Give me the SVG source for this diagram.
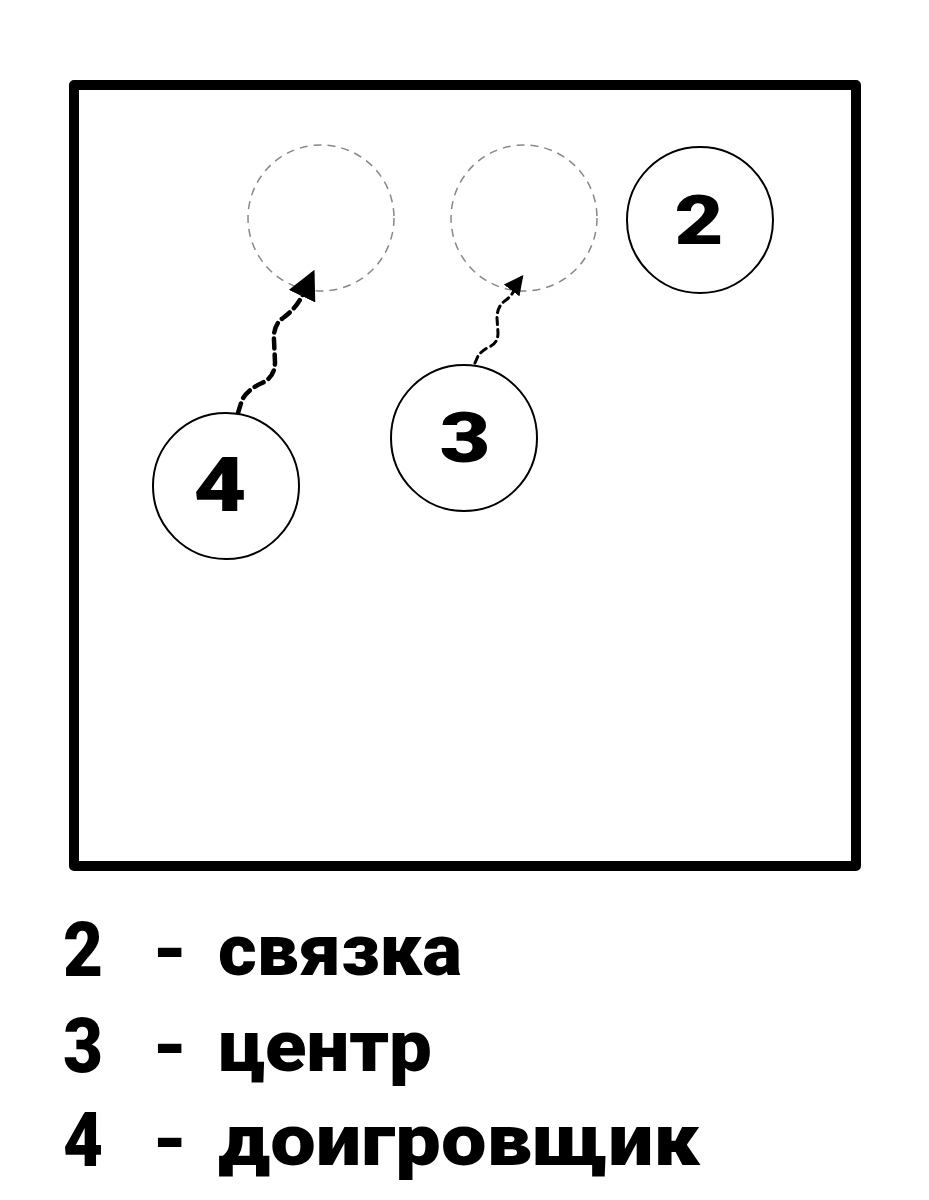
<svg xmlns="http://www.w3.org/2000/svg" width="929" height="1200" viewBox="0 0 929 1200">
<style>
.player{fill:#fff;stroke:#000;stroke-width:2}
.ghost{fill:none;stroke:#888;stroke-width:1.5;stroke-dasharray:8 6}
.num{font-family:Roboto,"Liberation Sans",sans-serif;font-weight:900;fill:#000;text-anchor:middle}
.leg{font-family:Roboto,"Liberation Sans",sans-serif;font-weight:900;font-size:72px;fill:#000}
.legnum{font-family:Roboto,"Liberation Sans",sans-serif;font-weight:900;font-size:76px;fill:#000}
.run{fill:none;stroke:#000;stroke-linecap:round}
</style>
<defs>
<marker id="ah" viewBox="0 0 10 10" refX="8" refY="5" markerWidth="6.5" markerHeight="6.5" markerUnits="strokeWidth" orient="auto">
<path d="M0,0 L10,5 L0,10 z" fill="#000"/>
</marker>
</defs>
<rect x="74" y="85" width="782" height="781" fill="#fff" stroke="#000" stroke-width="10" stroke-linejoin="round"/>
<g id="ghost-a"><circle class="ghost" cx="321" cy="218" r="73"/></g>
<g id="ghost-b"><circle class="ghost" cx="524" cy="218" r="73"/></g>
<g id="connectors">
<path class="run" d="M238,413 L242,400 Q247,390 262,383 Q275,377 275,362 L274,340 Q273,325 283,318 Q297,308 304,292 L312,275" stroke-width="4.5" stroke-dasharray="10 6" marker-end="url(#ah)"/>
<path class="run" d="M475,363 L478,356 Q482,350 491,346 Q498,342 498,333 L497,318 Q497,306 506,300 Q514,294 518,282 L521,278" stroke-width="3" stroke-dasharray="7 5" marker-end="url(#ah)"/>
</g>
<g id="node-2"><circle class="player" cx="700" cy="220" r="73"/><text class="num" x="699" y="244" font-size="69" textLength="49" lengthAdjust="spacingAndGlyphs">2</text></g>
<g id="node-3"><circle class="player" cx="464" cy="438" r="73"/><text class="num" x="465" y="462" font-size="71" textLength="51" lengthAdjust="spacingAndGlyphs">3</text></g>
<g id="node-4"><circle class="player" cx="226" cy="486" r="73"/><text class="num" x="220" y="511" font-size="76" textLength="53" lengthAdjust="spacingAndGlyphs">4</text></g>
<g id="legend">
<text class="legnum" x="63" y="976" textLength="40" lengthAdjust="spacingAndGlyphs">2</text><text class="leg" x="152" y="975" textLength="36" lengthAdjust="spacingAndGlyphs">-</text><text class="leg" x="218" y="975" textLength="244" lengthAdjust="spacingAndGlyphs">связка</text>
<text class="legnum" x="63" y="1072" textLength="40" lengthAdjust="spacingAndGlyphs">3</text><text class="leg" x="152" y="1071" textLength="36" lengthAdjust="spacingAndGlyphs">-</text><text class="leg" x="218" y="1071" textLength="214" lengthAdjust="spacingAndGlyphs">центр</text>
<text class="legnum" x="63" y="1166" textLength="40" lengthAdjust="spacingAndGlyphs">4</text><text class="leg" x="152" y="1165" textLength="36" lengthAdjust="spacingAndGlyphs">-</text><text class="leg" x="218" y="1165" textLength="482" lengthAdjust="spacingAndGlyphs">доигровщик</text>
</g>
</svg>
